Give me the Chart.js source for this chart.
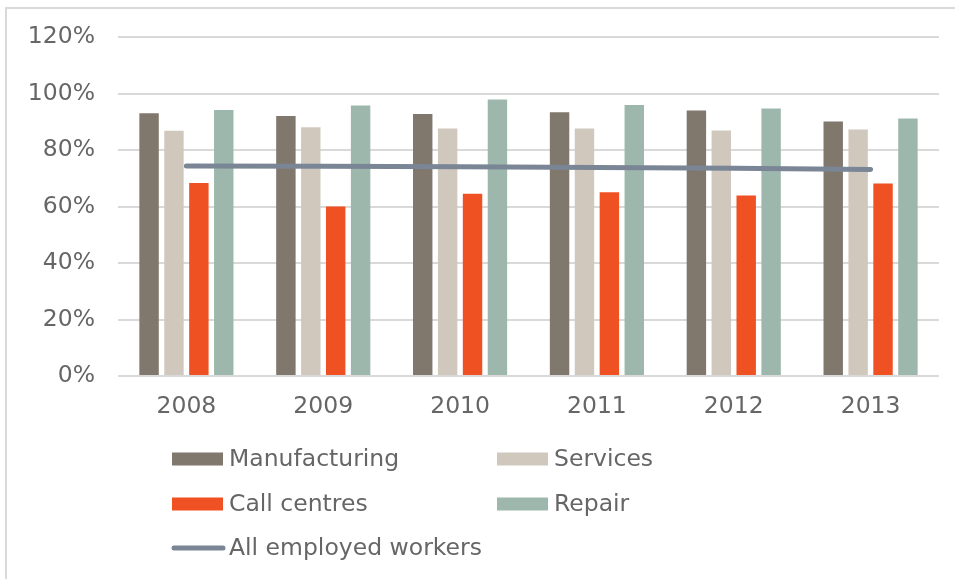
<!DOCTYPE html>
<html>
<head>
<meta charset="utf-8">
<script src="https://cdn.jsdelivr.net/npm/chart.js@4"></script>
<style>
  html, body { margin: 0; padding: 0; background: #fff; overflow: hidden; }
  canvas { display: block; }
</style>
</head>
<body>
<canvas id="c" width="955" height="579"></canvas>
<script>
const categories = ['2008', '2009', '2010', '2011', '2012', '2013'];
const manufacturing = [93.0, 92.1, 92.8, 93.4, 94.0, 90.1];
const services = [86.8, 88.1, 87.6, 87.6, 86.9, 87.3];
const callCentres = [68.3, 60.0, 64.5, 65.1, 63.9, 68.2];
const repair = [94.2, 95.8, 97.9, 96.0, 94.7, 91.2];
const allEmployed = [74.4, 74.3, 74.1, 73.8, 73.6, 73.1];
const yTicks = [0, 20, 40, 60, 80, 100, 120];

const FONT = 'DejaVu Sans';
const FSIZE = 23.5;
const TEXT = '#666666';

const framePlugin = {
  id: 'frame',
  beforeDraw(chart) {
    const ctx = chart.ctx;
    ctx.save();
    ctx.strokeStyle = '#d9d9d9';
    ctx.lineWidth = 2;
    ctx.beginPath();
    ctx.moveTo(6, 579);
    ctx.lineTo(6, 8);
    ctx.lineTo(955, 8);
    ctx.stroke();
    ctx.restore();
  }
};

const legendPlugin = {
  id: 'customLegend',
  afterDraw(chart) {
    const ctx = chart.ctx;
    const ds = chart.data.datasets;
    const slots = [
      [172, 459], [497, 459],
      [172, 504], [497, 504],
      [172, 548]
    ];
    ctx.save();
    ctx.font = FSIZE + 'px "' + FONT + '"';
    ctx.textBaseline = 'middle';
    ctx.textAlign = 'left';
    ds.forEach((d, i) => {
      const [x, y] = slots[i];
      if (d.type === 'line') {
        ctx.strokeStyle = d.borderColor;
        ctx.lineWidth = 5;
        ctx.lineCap = 'round';
        ctx.beginPath();
        ctx.moveTo(x + 2, y);
        ctx.lineTo(x + 51, y);
        ctx.stroke();
      } else {
        ctx.fillStyle = d.backgroundColor;
        ctx.fillRect(x, y - 6.5, 51, 13);
      }
      ctx.fillStyle = TEXT;
      ctx.fillText(d.label, x + 57, y + 1);
    });
    ctx.restore();
  }
};

const barCommon = { categoryPercentage: 0.728, barPercentage: 0.78, order: 1 };

new Chart(document.getElementById('c'), {
  data: {
    labels: categories,
    datasets: [
      Object.assign({ type: 'bar', label: 'Manufacturing', data: manufacturing, backgroundColor: '#80776d' }, barCommon),
      Object.assign({ type: 'bar', label: 'Services', data: services, backgroundColor: '#d0c8bd' }, barCommon),
      Object.assign({ type: 'bar', label: 'Call centres', data: callCentres, backgroundColor: '#f05123' }, barCommon),
      Object.assign({ type: 'bar', label: 'Repair', data: repair, backgroundColor: '#9db7ad' }, barCommon),
      { type: 'line', label: 'All employed workers', data: allEmployed, borderColor: '#7a8696', backgroundColor: '#7a8696',
        borderWidth: 5, borderCapStyle: 'round', pointRadius: 0, pointHoverRadius: 0, tension: 0, order: 0 }
    ]
  },
  options: {
    responsive: false,
    animation: false,
    devicePixelRatio: 1,
    layout: { padding: { left: 0, right: 16, top: 37, bottom: 163 } },
    plugins: { legend: { display: false }, tooltip: { enabled: false } },
    scales: {
      x: {
        grid: { display: false, drawTicks: false },
        border: { display: false },
        ticks: { color: TEXT, font: { family: FONT, size: FSIZE }, padding: 17 },
        afterFit(s) { s.height = 40; }
      },
      y: {
        min: 0, max: 120,
        afterBuildTicks(s) { s.ticks = yTicks.map(v => ({ value: v })); },
        grid: { color: '#d9d9d9', lineWidth: 2, drawTicks: false },
        border: { display: false },
        ticks: { color: TEXT, font: { family: FONT, size: FSIZE }, padding: 23, callback: v => v + '%' },
        afterFit(s) { s.width = 118; }
      }
    }
  },
  plugins: [framePlugin, legendPlugin]
});
</script>
</body>
</html>
